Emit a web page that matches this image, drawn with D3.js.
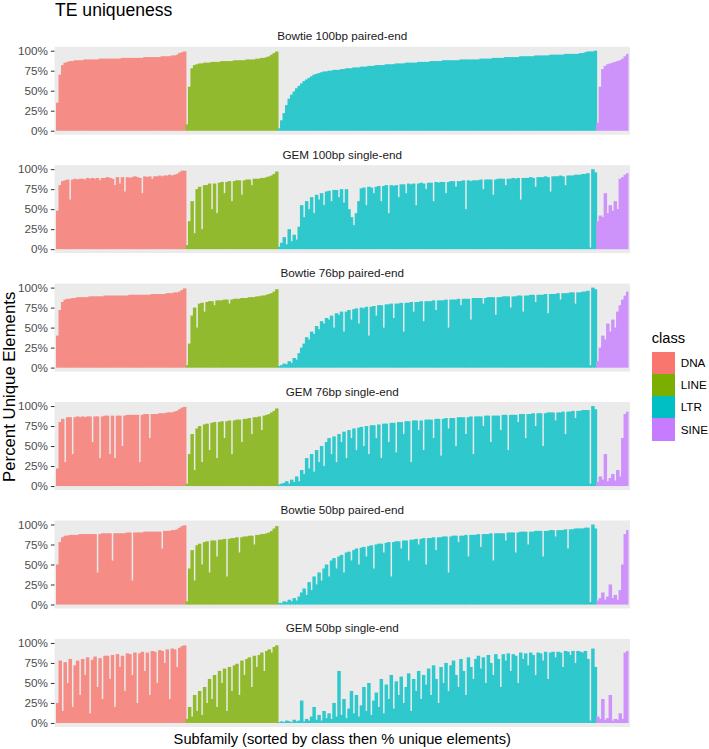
<!DOCTYPE html>
<html><head><meta charset="utf-8">
<script src="https://cdn.jsdelivr.net/npm/d3@7"></script>
<style>body{margin:0;background:#fff}svg{display:block}text{font-family:"Liberation Sans",Arial,Helvetica,sans-serif}</style>
</head><body><svg id="chart" width="709" height="749"></svg>
<script>
// ---------------- DATA ----------------
const classes = ["DNA", "LINE", "LTR", "SINE"];
const classColors = ["#F8766D", "#7CAE00", "#00BFC4", "#C77CFF"];
const barColors = ["#F58D86", "#92BA2F", "#2FC8CC", "#CE92FB"];
const panelTitles = ["Bowtie 100bp paired-end", "GEM 100bp single-end", "Bowtie 76bp paired-end",
  "GEM 76bp single-end", "Bowtie 50bp paired-end", "GEM 50bp single-end"];
const yTickValues = [0, 25, 50, 75, 100];
const yTickLabels = ["0%", "25%", "50%", "75%", "100%"];

// Bowtie 100bp paired-end
const bowtie100_DNA = [35,70,82,85,86,87,87,88,88,88, 88,89,89,89,89,89,89,90,90,90, 90,90,90,90,90,90,91,91,91,91, 91,91,91,91,91,92,92,92,92,92, 92,92,93,93,93,93,94,94,95,97, 98,99];
const bowtie100_LINE = [8,55,78,82,83,84,84,85,85,85, 86,86,86,86,87,87,87,87,87,88, 88,88,88,88,89,89,89,89,90,90, 91,91,92,93,95,97,99];
const bowtie100_LTR = [3,13,22,32,40,45,49,53,56,59, 62,64,66,68,70,71,72,73,74,74, 75,75,76,76,76,77,77,78,78,78,
  79,79,79,80,80,80,81,81,81,82, 82,82,82,83,83,83,83,84,84,84, 84,85,85,85,85,85,86,86,86,86,
  86,87,87,87,87,87,88,88,88,88, 88,88,88,89,89,89,89,89,89,89, 89,90,90,90,90,90,91,91,91,91,
  91,92,92,92,92,92,92,93,93,93, 93,93,93,94,94,94,94,94,94,95, 95,95,95,95,95,96,96,96,96,96,
  96,97,97,98,99,99,99,100];
const bowtie100_SINE = [10,55,77,81,83,84,85,86,87,88,90,93,96];

// GEM 100bp single-end
const gem100_DNA = [48,80,85,86,87,62,87,88,87,88, 88,87,89,88,89,88,89,86,89,89, 90,89,88,80,90,82,90,72,90,89,
  90,91,90,89,70,91,90,91,88,91, 91,92,91,92,92,93,92,93,94,96, 98,98];
const gem100_LINE = [5,35,60,20,75,78,25,80,80,82, 50,82,45,83,84,70,84,85,60,85, 86,86,68,86,87,87,80,88,88,88,
  89,89,90,91,92,94,97];
const gem100_LTR = [3,8,15,6,25,10,18,12,28,55, 40,60,50,65,45,68,62,70,55,72, 73,60,74,74,65,75,58,75,50,40,
  30,45,60,76,77,55,78,77,70,78, 79,60,79,80,45,80,79,80,65,81, 81,70,82,81,82,55,82,83,82,75,
  83,83,60,84,83,84,84,70,84,85, 85,78,85,85,86,50,86,85,86,86, 86,87,75,87,87,87,68,87,88,88,
  88,80,88,88,89,88,89,62,89,89, 89,90,89,78,90,90,90,91,90,72, 91,91,91,92,91,80,92,92,92,93,
  93,93,94,94,95,2,100,96];
const gem100_SINE = [35,42,40,70,45,55,48,60,50,88,90,93,95];

// Bowtie 76bp paired-end
const bowtie76_DNA = [40,72,82,85,86,86,87,87,88,88, 88,88,88,89,89,89,89,89,89,90, 90,90,90,90,90,90,90,90,90,91,
  91,91,91,91,91,91,91,91,92,92, 92,92,92,92,93,93,93,94,94,95, 97,99];
const bowtie76_LINE = [3,30,65,75,50,80,81,70,82,83, 83,78,84,84,84,85,85,80,85,86, 86,86,87,87,87,88,88,88,89,89,
  90,90,91,92,93,95,98];
const bowtie76_LTR = [2,3,5,4,8,6,12,10,18,25, 30,38,35,45,42,52,48,58,55,62, 60,65,50,68,66,70,45,70,72,60,
  73,74,55,75,74,76,40,76,77,65, 78,78,50,79,79,80,62,80,80,81, 45,81,81,82,70,82,82,83,58,83,
  83,83,84,72,84,84,84,85,50,85, 85,85,86,78,86,86,86,60,87,87, 87,87,80,87,88,88,88,66,88,88,
  89,89,89,75,89,89,90,90,70,90, 90,91,91,82,91,91,91,92,68,92, 92,92,93,85,93,93,93,94,94,80,
  94,94,95,95,96,3,100,98];
const bowtie76_SINE = [8,25,40,35,55,45,60,50,70,78,85,90,95];

// GEM 76bp single-end
const gem76_DNA = [22,80,84,30,86,86,40,86,87,86, 87,86,87,87,55,87,87,35,87,88, 88,40,88,35,88,88,50,88,89,89,
  89,89,89,30,89,90,90,60,90,90, 90,91,91,91,92,92,92,93,94,96, 98,99];
const gem76_LINE = [3,40,65,20,72,75,30,77,78,45, 79,80,35,80,81,60,81,82,40,82, 83,83,55,84,84,85,65,86,86,87,
  70,88,89,90,92,94,97];
const gem76_LTR = [2,3,4,6,3,8,5,12,6,20, 15,35,22,40,18,45,30,50,25,55, 60,40,62,30,65,55,68,35,70,60,
  72,45,73,74,50,75,40,76,76,60, 77,35,78,78,55,79,79,42,80,80, 65,81,81,30,82,82,70,82,45,83,
  83,83,60,84,84,38,84,85,72,85, 85,50,86,86,86,65,86,87,40,87, 87,87,75,88,88,55,88,88,88,70,
  89,89,45,89,89,89,80,90,90,60, 90,90,91,75,91,91,50,91,92,92, 92,82,92,92,93,65,93,93,94,85,
  94,94,95,95,95,3,100,96];
const gem76_SINE = [5,12,8,40,6,10,15,7,20,12,60,90,93];

// Bowtie 50bp paired-end
const bowtie50_DNA = [50,78,84,86,86,87,87,87,87,88, 88,88,88,88,88,88,40,88,89,89, 89,89,55,89,89,89,89,89,90,90,
  30,90,90,90,90,91,91,91,91,91, 91,91,70,92,92,92,93,93,94,96, 98,99];
const bowtie50_LINE = [4,45,68,30,74,76,50,78,79,40, 80,80,60,81,81,82,35,82,83,83, 84,65,84,85,85,86,86,75,87,87,
  88,88,89,90,92,95,98];
const bowtie50_LTR = [2,2,4,3,6,4,8,5,10,15, 20,12,28,18,35,25,40,30,45,50, 35,55,58,45,60,62,40,65,66,55,
  68,70,50,71,72,60,73,74,45,75, 76,76,65,77,78,35,78,79,79,70, 80,80,55,81,81,82,75,82,83,50,
  83,83,84,68,84,84,85,85,40,85, 86,86,78,86,86,87,60,87,87,87, 88,72,88,88,88,89,55,89,89,89,
  89,80,90,90,90,65,90,91,91,91, 75,91,91,92,92,92,60,92,92,93, 93,85,93,93,93,94,70,94,94,95,
  95,95,95,96,96,3,100,95];
const bowtie50_SINE = [5,8,15,6,10,25,8,12,6,18,50,88,93];

// GEM 50bp single-end
const gem50_DNA = [25,78,15,76,50,80,20,72,78,35, 80,60,82,12,79,83,45,81,30,84, 84,55,85,20,86,70,84,40,87,86,
  60,88,25,87,89,65,88,35,90,89, 50,91,90,75,92,30,93,92,70,94, 96,97];
const gem50_LINE = [5,20,8,35,15,40,10,45,25,55, 30,60,20,65,50,68,15,70,40,72, 74,35,78,60,80,82,45,84,70,85,
  88,65,90,92,88,95,97];
const gem50_LTR = [1,2,1,3,2,1,4,2,3,28, 2,5,3,8,20,4,10,3,15,6, 12,5,25,8,65,10,30,6,18,40,
  12,35,8,22,45,15,50,10,28,38, 20,55,12,48,30,60,18,52,35,58, 25,45,62,15,55,40,65,30,60,48,
  68,35,72,55,25,70,50,75,40,72, 78,60,45,80,65,35,82,70,55,80, 84,68,82,50,85,75,60,86,80,45,
  86,78,87,65,86,84,50,88,80,87, 72,88,85,60,88,87,78,89,55,88, 89,82,89,88,70,90,89,85,90,75,
  90,89,88,90,80,3,93,70];
const gem50_SINE = [8,5,30,4,6,35,3,5,4,12,5,88,90];

const panelData = [
  [bowtie100_DNA, bowtie100_LINE, bowtie100_LTR, bowtie100_SINE],
  [gem100_DNA, gem100_LINE, gem100_LTR, gem100_SINE],
  [bowtie76_DNA, bowtie76_LINE, bowtie76_LTR, bowtie76_SINE],
  [gem76_DNA, gem76_LINE, gem76_LTR, gem76_SINE],
  [bowtie50_DNA, bowtie50_LINE, bowtie50_LTR, bowtie50_SINE],
  [gem50_DNA, gem50_LINE, gem50_LTR, gem50_SINE]
];

// ---------------- LAYOUT ----------------
const W = 709, H = 749;
const svg = d3.select("#chart");
svg.append("rect").attr("width", W).attr("height", H).attr("fill", "#ffffff");

const panelLeft = 54.5, panelRight = 630, panelH = 88, panelTop0 = 46.7, panelStep = 118.45, expand = 4;
const color = d3.scaleOrdinal().domain(classes).range(classColors);
const barColor = d3.scaleOrdinal().domain(classes).range(barColors);

const nBars = d3.sum(panelData[0], a => a.length);
const x = d3.scaleBand().domain(d3.range(nBars)).range([panelLeft + 1.5, panelRight - 1.5]).padding(0);
const y = d3.scaleLinear().domain([0, 100]).range([panelH - expand, expand]);

panelData.forEach((arrs, k) => {
  const rows = [];
  let idx = 0;
  arrs.forEach((arr, ci) => arr.forEach(v => rows.push({ i: idx++, cls: classes[ci], v })));
  const g = svg.append("g").attr("transform", `translate(0,${panelTop0 + k * panelStep})`);
  g.append("rect").attr("x", panelLeft).attr("y", 0).attr("width", panelRight - panelLeft)
    .attr("height", panelH).attr("fill", "#EBEBEB");
  g.append("g").selectAll("rect").data(rows).join("rect")
    .attr("x", d => x(d.i))
    .attr("width", d => d.i === nBars - 1 ? x.bandwidth() : x.bandwidth() + 1)
    .attr("y", d => y(d.v)).attr("height", d => y(0) - y(d.v))
    .attr("fill", d => barColor(d.cls));
  const ax = g.append("g").attr("transform", `translate(${panelLeft},0)`)
    .call(d3.axisLeft(y).tickValues(yTickValues).tickFormat((d, i) => yTickLabels[i]).tickSize(3.6).tickPadding(3));
  ax.select(".domain").remove();
  ax.selectAll(".tick line").attr("stroke", "#333333").attr("stroke-width", 1);
  ax.selectAll(".tick text").attr("fill", "#4D4D4D").style("font-size", "11.7px")
    .style("font-family", '"Liberation Sans",Arial,sans-serif');
  g.append("text").attr("x", (panelLeft + panelRight) / 2).attr("y", -6.5)
    .attr("text-anchor", "middle").attr("fill", "#1A1A1A").style("font-size", "11.7px")
    .text(panelTitles[k]);
});

// Title
svg.append("text").attr("x", 55).attr("y", 15.5).attr("fill", "#000").style("font-size", "17.6px").text("TE uniqueness");
// Axis titles
svg.append("text").attr("transform", `translate(15,${(panelTop0 + panelTop0 + 5 * panelStep + panelH) / 2}) rotate(-90)`)
  .attr("text-anchor", "middle").attr("fill", "#000").style("font-size", "16.8px").text("Percent Unique Elements");
svg.append("text").attr("x", (panelLeft + panelRight) / 2).attr("y", 744)
  .attr("text-anchor", "middle").attr("fill", "#000").style("font-size", "14.67px")
  .text("Subfamily (sorted by class then % unique elements)");

// Legend
const lg = svg.append("g").attr("transform", "translate(651.7,0)");
lg.append("text").attr("x", 0).attr("y", 343).attr("fill", "#000").style("font-size", "14.67px").text("class");
const keySize = 22.3;
classes.forEach((c, j) => {
  lg.append("rect").attr("x", 0).attr("y", 351.5 + j * keySize).attr("width", 23).attr("height", keySize)
    .attr("fill", color(c)).attr("shape-rendering", "crispEdges");
  lg.append("text").attr("x", 29).attr("y", 351.5 + j * keySize + keySize / 2).attr("dy", "0.35em")
    .attr("fill", "#000").style("font-size", "11.7px").text(c);
});
</script></body></html>
